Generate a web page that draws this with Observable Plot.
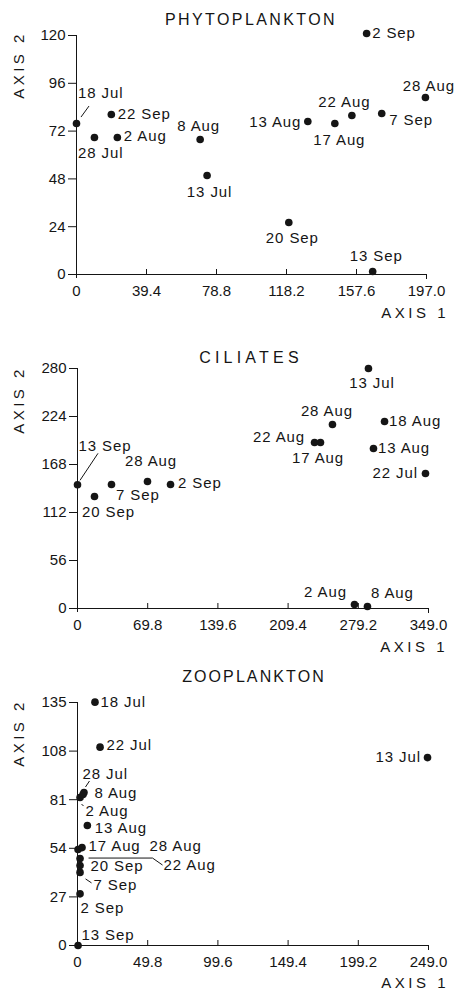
<!DOCTYPE html>
<html>
<head>
<meta charset="utf-8">
<script src="https://cdn.jsdelivr.net/npm/d3@7"></script>
<script src="https://cdn.jsdelivr.net/npm/@observablehq/plot@0.6"></script>
<style>
  html, body { margin: 0; padding: 0; background: #fff; }
  #chart svg { display: block; }
</style>
</head>
<body>
<div id="chart"></div>
<script>
// ---------- DATA ----------
// Phytoplankton
const phytoDates = ["13 Jul","18 Jul","28 Jul","2 Aug","8 Aug","13 Aug","17 Aug","22 Aug","28 Aug","2 Sep","7 Sep","13 Sep","20 Sep","22 Sep"];
const phytoAxis1 = [73.5, 0, 10.1, 23.0, 69.6, 130.2, 145.4, 155.0, 196.4, 163.3, 171.8, 166.7, 119.5, 19.6];
const phytoAxis2 = [49.7, 75.8, 68.8, 68.8, 67.8, 76.8, 75.8, 79.8, 88.9, 121.0, 80.8, 1.5, 26.1, 80.3];
const phytoXTicks = [0, 39.4, 78.8, 118.2, 157.6, 197.0];
const phytoYTicks = [0, 24, 48, 72, 96, 120];

// Ciliates
const ciliDates = ["13 Jul","22 Jul","2 Aug","8 Aug","13 Aug","17 Aug","18 Aug","22 Aug","28 Aug","28 Aug","2 Sep","7 Sep","13 Sep","20 Sep"];
const ciliAxis1 = [289.3, 346.0, 275.4, 288.3, 294.3, 241.6, 305.3, 235.7, 253.5, 69.6, 92.5, 33.8, 0, 16.9];
const ciliAxis2 = [280.0, 157.5, 4.7, 2.3, 186.7, 193.7, 218.2, 193.7, 214.7, 148.2, 144.7, 144.7, 144.3, 130.7];
const ciliXTicks = [0, 69.8, 139.6, 209.4, 279.2, 349.0];
const ciliYTicks = [0, 56, 112, 168, 224, 280];

// Zooplankton
const zooDates = ["13 Jul","18 Jul","22 Jul","28 Jul","2 Aug","8 Aug","13 Aug","17 Aug","22 Aug","28 Aug","2 Sep","7 Sep","13 Sep","20 Sep"];
const zooAxis1 = [248.3, 12.4, 16.0, 4.6, 1.8, 3.9, 7.0, 3.2, 1.8, 0.4, 1.8, 1.8, 0.4, 1.8];
const zooAxis2 = [104.4, 135.2, 110.2, 85.0, 82.2, 83.9, 66.7, 54.4, 48.3, 53.3, 28.7, 40.6, 0, 44.4];
const zooXTicks = [0, 49.8, 99.6, 149.4, 199.2, 249.0];
const zooYTicks = [0, 27, 54, 81, 108, 135];

const titles = ["PHYTOPLANKTON", "CILIATES", "ZOOPLANKTON"];
const axisNames = ["AXIS 1", "AXIS 2"];

// ---------- LAYOUT (label placement in pixels relative to each point) ----------
const FONT = "'Liberation Sans', Arial, sans-serif";
const INK = "#151515";

const phytoPlace = [[3,17,"middle"],[2,-30,"start"],[-16,16,"start"],[7,-1,"start"],[-1,-13,"middle"],[-6,1,"end"],[5,17,"middle"],[-7,-13,"middle"],[4,-11,"middle"],[6,0,"start"],[8,7,"start"],[4,-15,"middle"],[4,16,"middle"],[7,0,"start"]];
const phytoLeaders = [{i:1, pts:[[5,-6],[13,-17]]}];

const ciliPlace = [[4,15,"middle"],[-7,0,"end"],[-7,-12,"end"],[4,-13,"start"],[5,0,"start"],[-2,16,"middle"],[5,0,"start"],[-9,-5,"end"],[-5,-13,"middle"],[4,-20,"middle"],[8,-1,"start"],[5,11,"start"],[28,-39,"middle"],[-12,16,"start"]];
const ciliLeaders = [{i:12, pts:[[3,-4],[21,-31]]}];

const zooPlace = [[-6,0,"end"],[6,0,"start"],[7,-2,"start"],[-1,-18,"start"],[6,14,"start"],[12,-1,"start"],[8,3,"start"],[7,-1,"start"],[84,7,"start"],[72,-3,"start"],[1,14,"start"],[14,13,"start"],[4,-10,"start"],[11,1,"start"]];
const zooLeaders = [{i:3, pts:[[2,-5],[6,-11]]},{i:4, pts:[[2,7],[4,9]]},{i:8, pts:[[9,0],[73,0],[83,7]]},{i:11, pts:[[6,7],[12,11]]}];

const fmt = d => d === 0 ? "0" : (Number.isInteger(d) && d < 150 && d !== 197 && d !== 249 && d !== 349 ? String(d) : d3.format(".1f")(d));

function overlay(cfg) {
  return (index, scales, values, dimensions) => {
    const {width, height, marginTop, marginBottom, marginLeft, marginRight} = dimensions;
    const g = d3.create("svg:g").attr("font-family", FONT).attr("fill", INK);
    // leader lines
    cfg.leaders.forEach(({i, pts}) => {
      const px = scales.x(cfg.xs[i]), py = scales.y(cfg.ys[i]);
      g.append("polyline")
        .attr("points", pts.map(([dx, dy]) => `${px + dx},${py + dy}`).join(" "))
        .attr("fill", "none").attr("stroke", INK).attr("stroke-width", 1);
    });
    // point labels
    cfg.dates.forEach((d, i) => {
      const [dx, dy, anchor] = cfg.place[i];
      g.append("text")
        .attr("x", scales.x(cfg.xs[i]) + dx)
        .attr("y", scales.y(cfg.ys[i]) + dy)
        .attr("dy", "0.36em")
        .attr("text-anchor", anchor)
        .attr("font-size", 15)
        .attr("letter-spacing", 0.9)
        .text(d);
    });
    // title
    g.append("text")
      .attr("x", cfg.titleX).attr("y", marginTop + cfg.titleDy)
      .attr("dy", "0.36em").attr("text-anchor", "middle")
      .attr("font-size", 16).attr("letter-spacing", cfg.titleSpacing)
      .text(cfg.title);
    // AXIS 2 (vertical)
    g.append("text")
      .attr("transform", `translate(19,${marginTop + cfg.ax2Dy}) rotate(-90)`)
      .attr("dy", "0.36em").attr("text-anchor", "middle")
      .attr("font-size", 15).attr("letter-spacing", 3.5)
      .text(axisNames[1]);
    // AXIS 1
    g.append("text")
      .attr("x", cfg.ax1X).attr("y", height - marginBottom + cfg.ax1Dy)
      .attr("dy", "0.36em").attr("text-anchor", "end")
      .attr("font-size", 15).attr("letter-spacing", 3.5)
      .text(axisNames[0]);
    return g.node();
  };
}

function panel(cfg) {
  const frameH = cfg.height - cfg.marginTop - cfg.marginBottom;
  const xMax = cfg.xTicks[cfg.xTicks.length - 1];
  const yMax = cfg.yTicks[cfg.yTicks.length - 1];
  return Plot.plot({
    width: 462,
    height: cfg.height,
    marginTop: cfg.marginTop,
    marginBottom: cfg.marginBottom,
    marginLeft: cfg.marginLeft,
    marginRight: cfg.marginRight,
    style: {fontFamily: FONT, fontSize: "15px", color: INK, background: "#fff", overflow: "visible"},
    x: {domain: [0, xMax], axis: null},
    y: {domain: [0, yMax], axis: null},
    marks: [
      Plot.ruleX([0], {stroke: INK, strokeWidth: 1, insetBottom: -4}),
      Plot.ruleY([0], {stroke: INK, strokeWidth: 1}),
      // x ticks pointing up (inner), last one pointing down
      Plot.tickX(cfg.xTicks.slice(1, -1), {x: d => d, stroke: INK, insetTop: frameH - 5}),
      Plot.tickX(cfg.xTicks.slice(-1), {x: d => d, stroke: INK, insetTop: frameH, insetBottom: -5}),
      Plot.axisX({ticks: cfg.xTicks, tickSize: 0, tickPadding: 11, tickFormat: fmt, fontSize: 15, label: null}),
      Plot.axisY({ticks: cfg.yTicks, tickSize: 8, tickPadding: 3, tickFormat: d => String(d), fontSize: 15, label: null}),
      Plot.dot(cfg.dates, {x: cfg.xs, y: cfg.ys, r: 3.8, fill: INK, stroke: "none"}),
      overlay(cfg)
    ]
  });
}

const chart = document.getElementById("chart");
chart.append(panel({
  title: titles[0], dates: phytoDates, xs: phytoAxis1, ys: phytoAxis2,
  xTicks: phytoXTicks, yTicks: phytoYTicks, place: phytoPlace, leaders: phytoLeaders,
  height: 320, marginTop: 35, marginBottom: 46, marginLeft: 76, marginRight: 36,
  titleX: 251, titleDy: -16, titleSpacing: 2.4, ax2Dy: 30, ax1X: 449, ax1Dy: 39
}));
chart.append(panel({
  title: titles[1], dates: ciliDates, xs: ciliAxis1, ys: ciliAxis2,
  xTicks: ciliXTicks, yTicks: ciliYTicks, place: ciliPlace, leaders: ciliLeaders,
  height: 335, marginTop: 48, marginBottom: 47, marginLeft: 77, marginRight: 34,
  titleX: 251, titleDy: -11, titleSpacing: 4.2, ax2Dy: 32, ax1X: 448, ax1Dy: 39
}));
chart.append(panel({
  title: titles[2], dates: zooDates, xs: zooAxis1, ys: zooAxis2,
  xTicks: zooXTicks, yTicks: zooYTicks, place: zooPlace, leaders: zooLeaders,
  height: 336, marginTop: 47, marginBottom: 46, marginLeft: 77, marginRight: 34,
  titleX: 254, titleDy: -26, titleSpacing: 2.1, ax2Dy: 31, ax1X: 449, ax1Dy: 38
}));
</script>
</body>
</html>
